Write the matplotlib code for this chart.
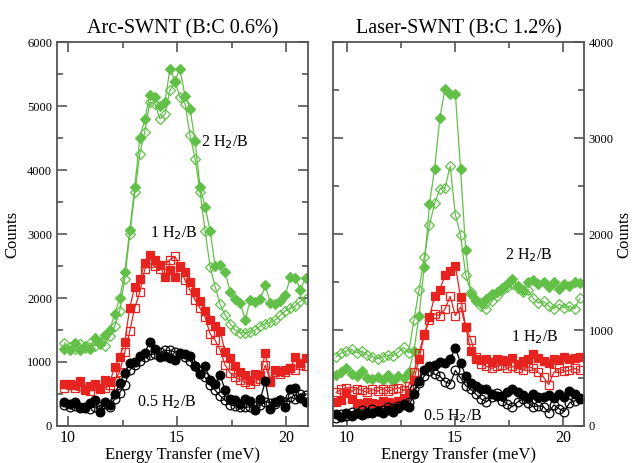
import matplotlib
matplotlib.use("Agg")
import matplotlib.pyplot as plt
from matplotlib.ticker import MultipleLocator

plt.rcParams['font.family'] = ['Liberation Serif', 'DejaVu Serif']

# ---- Arc-SWNT (B:C 0.6%) ----
E_arc = [9.84, 10.07, 10.30, 10.53, 10.76, 10.99, 11.22, 11.45, 11.68, 11.91,
         12.14, 12.37, 12.60, 12.83, 13.06, 13.29, 13.52, 13.75, 13.98, 14.21,
         14.44, 14.67, 14.90, 15.13, 15.36, 15.59, 15.82, 16.05, 16.28, 16.51,
         16.74, 16.97, 17.20, 17.43, 17.66, 17.89, 18.12, 18.35, 18.58, 18.81,
         19.04, 19.27, 19.50, 19.73, 19.96, 20.19, 20.42, 20.65, 20.88]

arc_2_fill = [1200, 1180, 1300, 1180, 1250, 1200, 1380, 1280, 1420, 1500,
              1750, 2000, 2400, 3060, 3740, 4500, 4800, 5170, 5140, 5000,
              5060, 5580, 5400, 5580, 5160, 4960, 4450, 3740, 3430, 3050,
              2500, 2520, 2400, 2100, 1980, 1920, 1660, 1970, 1930, 1980,
              2200, 1920, 1900, 1950, 2050, 2330, 2310, 2130, 2320]
arc_2_open = [1300, 1230, 1200, 1280, 1220, 1300, 1250, 1320, 1250, 1400,
              1560, 1800, 2300, 3000, 3650, 4250, 4600, 5060, 5040, 4800,
              4870, 5250, 5380, 5140, 5040, 4550, 4180, 3660, 3050, 2490,
              2180, 1900, 1730, 1600, 1500, 1460, 1450, 1470, 1500, 1560,
              1600, 1620, 1660, 1730, 1800, 1840, 1880, 1950, 1980]
arc_1_fill = [650, 650, 640, 700, 560, 620, 660, 600, 720, 680,
              920, 1080, 1310, 1850, 2180, 2300, 2540, 2670, 2590, 2510,
              2330, 2440, 2330, 2500, 2400, 2250, 2100, 1950, 1800, 1650,
              1560, 1490, 1150, 1060, 930, 850, 800, 720, 820, 800,
              1140, 690, 880, 860, 880, 900, 1080, 990, 1060]
arc_1_open = [600, 640, 600, 620, 580, 540, 620, 580, 600, 640,
              700, 850, 1150, 1480, 1850, 2090, 2450, 2540, 2500, 2460,
              2520, 2600, 2650, 2480, 2280, 2120, 1970, 1840, 1700, 1440,
              1340, 1190, 950, 830, 760, 720, 680, 660, 700, 740,
              950, 700, 850, 820, 840, 900, 880, 950, 930]
arc_05_fill = [380, 340, 380, 300, 280, 360, 400, 220, 380, 330,
               500, 670, 830, 990, 1000, 1100, 1140, 1320, 1210, 1080,
               1100, 1060, 1030, 1140, 1120, 1100, 930, 820, 930, 720,
               650, 790, 560, 420, 400, 340, 420, 390, 250, 420,
               700, 260, 380, 400, 290, 570, 600, 440, 370]
arc_05_open = [330, 300, 310, 280, 290, 270, 300, 310, 340, 300,
               420, 520, 640, 870, 960, 1020, 1080, 1110, 1130, 1150,
               1180, 1180, 1160, 1120, 1080, 1020, 940, 860, 760, 640,
               560, 470, 400, 330, 310, 300, 290, 300, 310, 320,
               380, 360, 340, 400, 380, 450, 420, 500, 480]

# ---- Laser-SWNT (B:C 1.2%) ----
E_las = [9.50, 9.74, 9.98, 10.22, 10.46, 10.70, 10.94, 11.18, 11.42, 11.66,
         11.90, 12.14, 12.38, 12.62, 12.86, 13.10, 13.34, 13.58, 13.82, 14.06,
         14.30, 14.54, 14.78, 15.02, 15.26, 15.50, 15.74, 15.98, 16.22, 16.46,
         16.70, 16.94, 17.18, 17.42, 17.66, 17.90, 18.14, 18.38, 18.62, 18.86,
         19.10, 19.34, 19.58, 19.82, 20.06, 20.30, 20.54, 20.78]

las_2_fill = [530, 560, 600, 540, 520, 570, 500, 490, 510, 480,
              530, 470, 520, 500, 560, 780, 1150, 1660, 2310, 2680,
              3210, 3510, 3455, 3460, 2680, 1830, 1370, 1310, 1280, 1320,
              1370, 1400, 1440, 1480, 1530, 1460, 1420, 1500, 1520, 1480,
              1500, 1450, 1500, 1430, 1480, 1460, 1500, 1490]
las_2_open = [720, 760, 780, 800, 760, 780, 740, 720, 700, 720,
              740, 730, 770, 820, 760, 1100, 1420, 1760, 2090, 2320,
              2470, 2480, 2710, 2200, 1990, 1570, 1400, 1300, 1250, 1220,
              1300, 1350, 1420, 1450, 1480, 1440, 1400, 1420, 1330, 1280,
              1300, 1250, 1220, 1270, 1230, 1250, 1220, 1330]
las_1_fill = [250, 270, 340, 280, 240, 230, 250, 240, 230, 260,
              250, 240, 260, 280, 340, 480, 700, 950, 1140, 1350,
              1420, 1570, 1620, 1670, 1340, 1030, 780, 700, 690, 700,
              670, 700, 690, 680, 710, 650, 680, 700, 750, 710,
              680, 660, 700, 690, 720, 700, 710, 720]
las_1_open = [350, 380, 400, 360, 390, 370, 350, 380, 360, 390,
              360, 380, 400, 370, 420, 560, 760, 960, 1100, 1170,
              1150, 1220, 1350, 1150, 1240, 1030, 900, 720, 650, 620,
              600, 620, 640, 600, 620, 600, 580, 620, 600, 560,
              510, 430, 560, 600, 570, 580, 600, 580]
las_05_fill = [120, 90, 140, 100, 130, 110, 150, 130, 160, 140,
               170, 150, 190, 220, 200, 330, 470, 580, 620, 640,
               670, 660, 700, 810, 660, 520, 450, 420, 390, 380,
               330, 310, 310, 350, 380, 350, 320, 290, 330, 300,
               300, 320, 290, 330, 300, 360, 330, 290]
las_05_open = [80, 120, 100, 150, 130, 170, 140, 180, 160, 170,
               200, 190, 210, 230, 250, 380, 450, 520, 570, 540,
               520, 460, 440, 580, 500, 420, 380, 330, 280, 250,
               300, 340, 260, 230, 200, 250, 280, 240, 200, 210,
               200, 140, 220, 180, 150, 240, 260, 280]

GREEN = '#62c048'
RED = '#e6231e'
BLACK = '#000000'

fig = plt.figure(figsize=(6.34, 4.63), dpi=100)
ax1 = fig.add_axes([0.090, 0.080, 0.396, 0.829])
ax2 = fig.add_axes([0.525, 0.080, 0.396, 0.829])


def draw(ax, x, series):
    for y, color, marker, filled in series:
        size = {'D': 5.2, 's': 5.5, 'o': 6.3}[marker]
        ax.plot(x, y, color=color, lw=0.9, marker=marker, ms=size,
                mfc=color if filled else 'none', mec=color, mew=0.9)


draw(ax1, E_arc, [
    (arc_2_open, GREEN, 'D', False), (arc_2_fill, GREEN, 'D', True),
    (arc_1_open, RED, 's', False), (arc_1_fill, RED, 's', True),
    (arc_05_open, BLACK, 'o', False), (arc_05_fill, BLACK, 'o', True),
])
draw(ax2, E_las, [
    (las_2_open, GREEN, 'D', False), (las_2_fill, GREEN, 'D', True),
    (las_1_open, RED, 's', False), (las_1_fill, RED, 's', True),
    (las_05_open, BLACK, 'o', False), (las_05_fill, BLACK, 'o', True),
])

for ax in (ax1, ax2):
    ax.xaxis.set_major_locator(MultipleLocator(5))
    ax.xaxis.set_minor_locator(MultipleLocator(2.5))
    ax.yaxis.set_major_locator(MultipleLocator(1000))
    ax.yaxis.set_minor_locator(MultipleLocator(500))
    ax.tick_params(which='both', direction='in', top=True, right=True, left=True,
                   color='#555555', width=1.2)
    ax.tick_params(which='major', length=7)
    ax.tick_params(which='minor', length=4)
    ax.tick_params(axis='x', labelsize=11.5, pad=3)
    ax.tick_params(axis='y', labelsize=9)
    for s in ax.spines.values():
        s.set_color('#555555')
        s.set_linewidth(1.3)
    ax.set_xlabel('Energy Transfer (meV)', fontsize=12, labelpad=0.5)

ax1.set_xlim(9.5, 21.0)
ax1.set_ylim(0, 6000)
ax1.set_ylabel('Counts', fontsize=12, labelpad=5)
ax1.set_title('Arc-SWNT (B:C 0.6%)', fontsize=14.5, pad=6)

ax2.set_xlim(9.35, 20.97)
ax2.set_ylim(0, 4000)
ax2.yaxis.tick_right()
ax2.yaxis.set_label_position('right')
ax2.tick_params(which='both', left=True, right=True)
ax2.set_ylabel('Counts', fontsize=12, labelpad=2)
ax2.set_title('Laser-SWNT (B:C 1.2%)', fontsize=14.5, pad=6)

lab = dict(fontsize=11.5, va='center', ha='left')
ax1.text(16.1, 4440, '2 H$_2$/B', **lab)
ax1.text(13.75, 3010, '1 H$_2$/B', **lab)
ax1.text(13.15, 375, '0.5 H$_2$/B', **lab)
ax2.text(17.3, 1780, '2 H$_2$/B', **lab)
ax2.text(17.6, 930, '1 H$_2$/B', **lab)
ax2.text(13.5, 100, '0.5 H$_2$/B', **lab)

fig.savefig('out.png', dpi=100)
